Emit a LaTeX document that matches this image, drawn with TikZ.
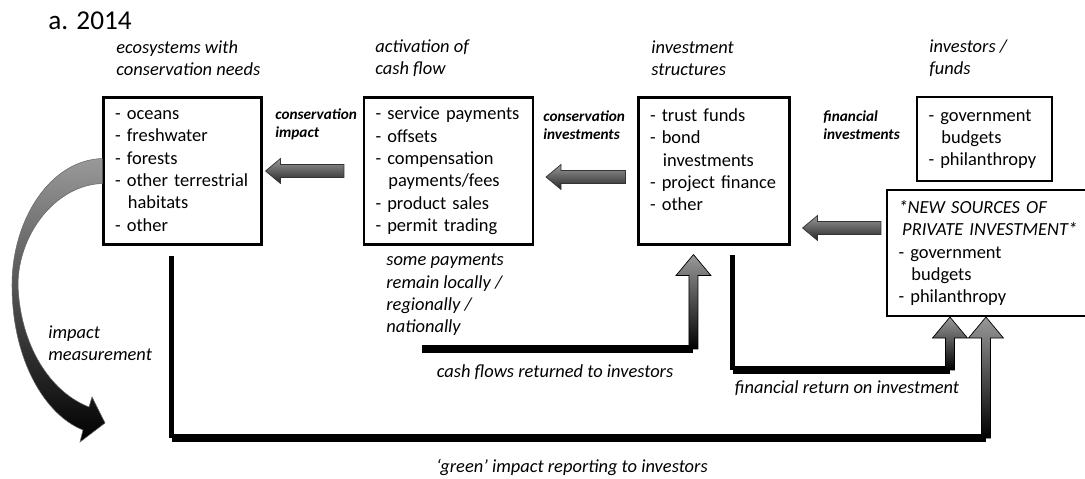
\documentclass[tikz,border=0pt]{standalone}
\usepackage{fontspec}
\setmainfont{Carlito}
\usetikzlibrary{arrows.meta,calc,positioning}
\hyphenpenalty=10000
\exhyphenpenalty=10000

\begin{document}
\begin{tikzpicture}[
            x = 0.02cm, y = -0.02cm, % one unit = one pixel, y runs down
            font = \fontsize{10.5pt}{12.7pt}\selectfont,
            box/.style = {draw, line width=1.2pt, align=left, inner xsep=0.23cm, minimum height=2.94cm},
            head/.style = {font=\fontsize{10.5pt}{12.7pt}\selectfont\itshape, align=left, anchor=west, inner sep=0pt},
            tag/.style = {font=\fontsize{8.7pt}{10.2pt}\selectfont\bfseries\itshape, align=left, anchor=west, inner sep=0pt},
            note/.style = {font=\fontsize{10.5pt}{12.7pt}\selectfont\itshape, inner sep=0pt},
            vline/.style = {line width=0.1cm},
            hline/.style = {line width=0.16cm},
            % grey block arrow pointing left, drawn as a connector
            leftblock/.style = {top color=black!40, bottom color=black!85, draw=black!80, line width=0.4pt,
                to path={($(\tikztostart)+(0,-6.5)$) -- ($(\tikztotarget)+(15,-6.5)$) -- ($(\tikztotarget)+(15,-12.5)$)
                    -- (\tikztotarget) -- ($(\tikztotarget)+(15,12.5)$) -- ($(\tikztotarget)+(15,6.5)$)
                    -- ($(\tikztostart)+(0,6.5)$) -- cycle}},
            % block arrow pointing up, black shaft fading to grey
            upblock/.style = {top color=black!40, bottom color=black, draw=black, line width=0.4pt,
                to path={($(\tikztostart)+(-4.5,0)$) -- ($(\tikztotarget)+(-4.5,21)$) -- ($(\tikztotarget)+(-17.5,21)$)
                    -- (\tikztotarget) -- ($(\tikztotarget)+(17.5,21)$) -- ($(\tikztotarget)+(4.5,21)$)
                    -- ($(\tikztostart)+(4.5,0)$) -- cycle}},
            sweep/.style = {top color=black!40, bottom color=black, draw=black!60, line width=0.3pt}
        ]
\useasboundingbox (0,0) rectangle (1085,479);
\clip (0,0) rectangle (1085,479);

\node[font=\fontsize{15.5pt}{18pt}\selectfont, anchor=west, inner sep=0pt] (title) at (48,21) {a. 2014};

% boxes
\node[box, text width=2.70cm] (eco) at (182.5,171) {-~oceans\\-~freshwater\\-~forests\\-~other~terrestrial\\\hspace*{0.7em}habitats\\-~other};
\node[box, text width=2.92cm] (cash) at (448.5,171) {-~service~payments\\-~offsets\\-~compensation\\\hspace*{0.7em}payments/fees\\-~product~sales\\-~permit~trading};
\node[box, text width=2.56cm] (invest) at (714,171) {-~trust~funds\\-~bond\\\hspace*{0.7em}investments\\-~project~finance\\-~other\\~};
\node[box, text width=2.24cm, minimum height=1.68cm] (funds) at (984.5,139) {-~government\\\hspace*{0.7em}budgets\\-~philanthropy};
\node[box, text width=3.74cm, minimum height=2.52cm] (newsrc) at (992,253) {\textit{*NEW SOURCES OF}\\\hspace*{0.2em}\textit{PRIVATE INVESTMENT*}\\-~government\\\hspace*{0.7em}budgets\\-~philanthropy};

% headings
\node[head] (ecohead) at (116,58) {ecosystems with\\conservation needs};
\node[head] (cashhead) at (375,58) {activation of\\cash flow};
\node[head] (investhead) at (651,58) {investment\\structures};
\node[head] (fundshead) at (929,58) {investors /\\funds};

% flows between the boxes
\path[leftblock] ($(cash.west)+(-19,0)$) to ($(eco.east)+(3,0)$);
\path[leftblock] ($(invest.west)+(-12,6)$) to ($(cash.east)+(12,6)$);
\path[leftblock] ($(newsrc.west)+(-5,-25)$) to ($(invest.east)+(12,57)$);

\node[tag] (lblimpact) at (275,124) {conservation\\impact};
\node[tag] (lblconsinv) at (543,125.5) {conservation\\investments};
\node[tag] (lblfininv) at (823,125.5) {financial\\investments};

% returns
\coordinate (cstart) at (422,349);
\coordinate (ctip) at ($(invest.south west)+(56,9)$);
\draw[hline] (cstart) -- (cstart -| ctip);
\path[upblock] (cstart -| ctip) to (ctip);

\coordinate (ftop) at ($(invest.south east)+(-58,9)$);
\coordinate (ftip) at ($(newsrc.south west)+(64,0)$);
\coordinate (fbend) at (ftop |- 0,370);
\draw[vline] (ftop) -- (fbend);
\draw[hline] (fbend) -- (fbend -| ftip);
\path[upblock] (fbend -| ftip) to (ftip);

\coordinate (gtop) at ($(eco.south)+(-11,10)$);
\coordinate (gtip) at ($(newsrc.south west)+(100,0)$);
\coordinate (gbend) at (gtop |- 0,438);
\draw[vline] (gtop) -- (gbend);
\draw[hline] (gbend) -- (gbend -| gtip);
\path[upblock] (gbend -| gtip) to (gtip);

\node[note, align=left, anchor=west] (lblpayments) at (386,295) {some payments\\remain locally /\\regionally /\\nationally};
\node[note] (lblcashret) at (555,372) {cash flows returned to investors};
\node[note] (lblfinret) at (847,388) {financial return on investment};
\node[note] (lblgreen) at (572,467) {`green' impact reporting to investors};

% impact measurement sweep
\coordinate (mtip) at (105,423);
\path[sweep] ($(eco.west)+(0,-12.5)$) .. controls (50,160) and (12,220) .. (12,285)
    .. controls (12,360) and (45,415) .. (83,430) -- (80,442) -- (mtip) -- (92,397) -- (89,407)
    .. controls (50,392) and (20,345) .. (18,285) .. controls (18,235) and (55,185) .. ($(eco.west)+(0,12.5)$) -- cycle;
\node[note, align=left, anchor=west] (lblmeasure) at (48,343) {impact\\measurement};
\end{tikzpicture}
\end{document}
